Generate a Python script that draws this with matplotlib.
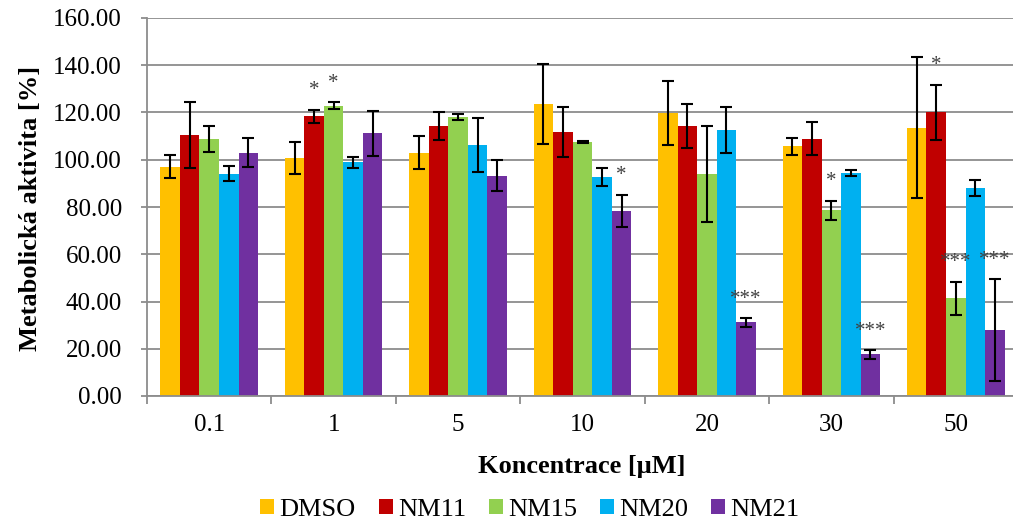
import matplotlib
matplotlib.use("Agg")
import matplotlib.pyplot as plt
import numpy as np
from matplotlib.patches import Patch

plt.rcParams['font.family'] = ['Liberation Serif', 'DejaVu Serif']

categories = ["0.1", "1", "5", "10", "20", "30", "50"]
series = ["DMSO", "NM11", "NM15", "NM20", "NM21"]
colors = ["#FFC000", "#C00000", "#92D050", "#00B0F0", "#7030A0"]

dmso = [97.1, 100.7, 103.0, 123.5, 119.7, 105.7, 113.6]
nm11 = [110.6, 118.4, 114.2, 111.7, 114.3, 108.9, 120.1]
nm15 = [108.8, 122.9, 118.2, 107.5, 94.0, 78.7, 41.3]
nm20 = [94.0, 99.0, 106.2, 92.7, 112.7, 94.5, 88.0]
nm21 = [103.0, 111.2, 93.3, 78.3, 31.2, 17.6, 27.9]

dmso_err = [4.8, 6.8, 7.0, 17.0, 13.6, 3.7, 29.8]
nm11_err = [14.0, 2.8, 5.8, 10.5, 9.3, 7.0, 11.7]
nm15_err = [5.6, 1.4, 1.2, 0.6, 20.4, 4.0, 7.1]
nm20_err = [3.2, 2.3, 11.3, 3.8, 9.7, 1.3, 3.3]
nm21_err = [6.0, 9.5, 6.6, 6.9, 1.8, 1.8, 21.5]

# significance marks: (category index, series index, text)
stars = [(1, 1, "*"), (1, 2, "*"), (3, 4, "*"), (4, 4, "***"),
         (5, 2, "*"), (5, 4, "***"), (6, 1, "*"), (6, 2, "***"), (6, 4, "***")]

values = [dmso, nm11, nm15, nm20, nm21]
errors = [dmso_err, nm11_err, nm15_err, nm20_err, nm21_err]

W, H = 1013, 524
fig = plt.figure(figsize=(W / 100, H / 100), dpi=100)
ax = fig.add_axes([147 / W, (H - 396) / H, 871 / W, 378 / H])

n = len(categories)
x = np.arange(n)
bw = 0.157
offsets = (np.arange(len(series)) - 2) * bw

for i, (vals, errs, c, name) in enumerate(zip(values, errors, colors, series)):
    ax.bar(x + offsets[i], vals, width=bw, color=c, label=name, zorder=2)
    ax.errorbar(x + offsets[i], vals, yerr=errs, fmt='none', ecolor='black',
                elinewidth=1.5, capsize=4.3, capthick=1.5, zorder=3)

for ci, si, txt in stars:
    y = values[si][ci] + errors[si][ci] + 8
    ax.text(x[ci] + offsets[si], y, txt, ha='center', va='center',
            fontsize=15, color='#404040', zorder=4)

ax.set_xlim(-0.5, n - 0.5)
ax.set_ylim(0, 160)
ax.set_yticks(np.arange(0, 161, 20))
ax.set_yticklabels([f"{v:.2f}" for v in np.arange(0, 161, 20)])
ax.set_xticks(x)
ax.set_xticklabels(categories)
ax.set_xticks(np.arange(-0.5, n, 1.0), minor=True)

ax.yaxis.grid(True, color='#8c8c8c', linewidth=1.3, zorder=0)
ax.set_axisbelow(True)
for s in ['top', 'right']:
    ax.spines[s].set_visible(False)
for s in ['left', 'bottom']:
    ax.spines[s].set_color('#8c8c8c')
    ax.spines[s].set_linewidth(1.3)

ax.tick_params(axis='y', length=4, width=1.3, color='#8c8c8c', pad=14,
               labelsize=18, labelcolor='black')
ax.tick_params(axis='x', which='major', length=0, pad=13, labelsize=18)
ax.tick_params(axis='x', which='minor', length=6, width=1.3, color='#8c8c8c')

fig.text(31 / W, 1 - 208 / H, "Metabolická aktivita [%]", rotation=90,
         ha='center', va='center', fontsize=19, fontweight='bold')
fig.text(582 / W, 1 - 466 / H, "Koncentrace [μM]", ha='center', va='center',
         fontsize=19, fontweight='bold')

handles = [Patch(facecolor=c, edgecolor='none', label=s) for c, s in zip(colors, series)]
fig.legend(handles=handles, loc='center', bbox_to_anchor=(530 / W, 1 - 510 / H),
           ncol=5, frameon=False, fontsize=19, handlelength=0.53, handleheight=0.53,
           handletextpad=0.2, columnspacing=0.87, borderaxespad=0, borderpad=0)

fig.savefig("out.png", dpi=100)
